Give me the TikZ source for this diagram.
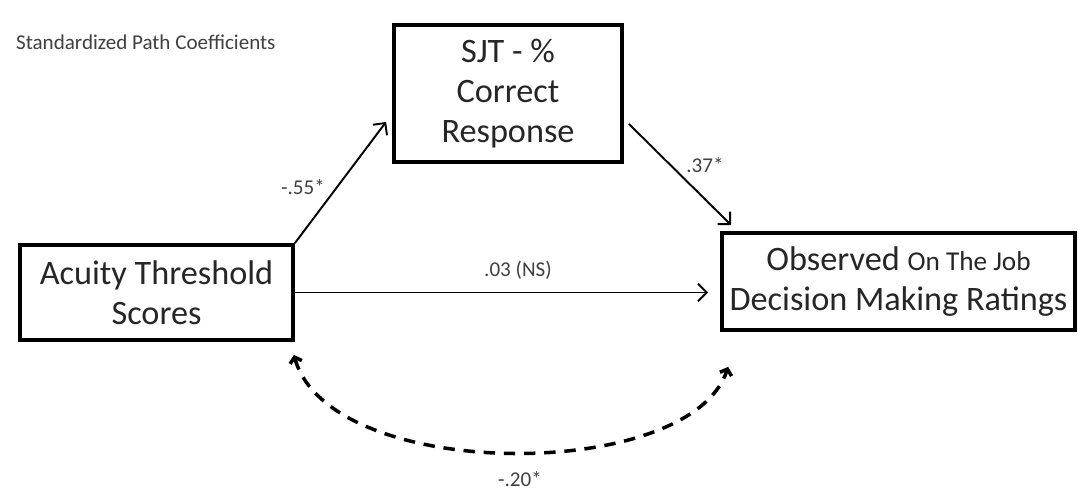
\documentclass[tikz,border=0pt]{standalone}
\usepackage{fontspec}
\setmainfont{Carlito}
\usetikzlibrary{positioning,calc,arrows.meta}

\begin{document}
\begin{tikzpicture}[
        x=0.02cm, y=-0.02cm,
        box/.style={draw, rectangle, line width=2.2pt, align=center, inner sep=2pt, text=black!85, font=\fontsize{19.5}{22.7}\selectfont},
        coef/.style={text=black!75, inner sep=1pt, font=\fontsize{12}{14}\selectfont},
        arrow/.style={-{Straight Barb[length=5pt,width=10pt,line width=1.1pt]}, line width=1.1pt},
        corr/.style={{Straight Barb[length=3pt,width=7pt,line width=2pt]}-{Straight Barb[length=3pt,width=7pt,line width=2pt]}, line width=2pt, dash pattern=on 6.5pt off 5pt}
    ]
        \useasboundingbox (0,0) rectangle (1078,491);

        % Title
        \node[coef, anchor=west] (title) at (14,42) {Standardized Path Coefficients};

        % Boxes
        \node[box, minimum width=5.46cm, minimum height=1.9cm] (acuity) at (156.5,292.5) {Acuity Threshold\\Scores};
        \node[box, minimum width=4.56cm, minimum height=2.74cm] (sjt) at (508,93.5) {SJT - \%\\Correct\\Response};
        \node[box, minimum width=7.06cm, minimum height=1.94cm] (observed) at (898.5,281.5) {Observed {\fontsize{15.5}{22.7}\selectfont On The Job}\\Decision Making Ratings};

        % Paths
        \draw[arrow] (acuity.north east) -- ($(sjt.south west)+(-6,-42)$);
        \draw[arrow] ($(sjt.south east)+(5,-40)$) -- ($(observed.north west)+(11,-6)$);
        \draw[arrow, shorten >=0.24cm] (acuity.east) -- (acuity.east -| observed.west);

        % Correlation
        \coordinate (corrL) at ($(acuity.south east)+(-1,13)$);
        \coordinate (corrR) at ($(observed.south west)+(8,35)$);
        \draw[corr] (corrL) .. controls (330,483) and (690,483) .. (corrR);

        % Coefficients
        \node[coef] (c1) at (303,187) {-.55*};
        \node[coef] (c2) at (705,165) {.37*};
        \node[coef] (c3) at (518,270) {.03 (NS)};
        \node[coef] (c4) at (520,479) {-.20*};
\end{tikzpicture}
\end{document}
